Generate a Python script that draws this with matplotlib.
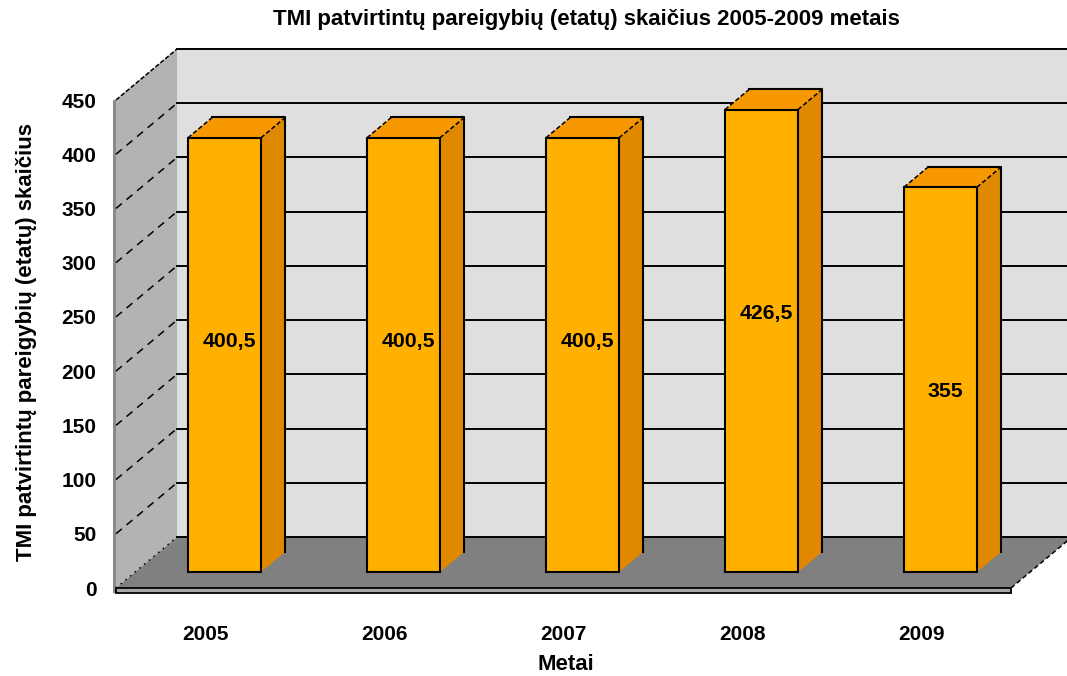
import matplotlib
matplotlib.use("Agg")
import matplotlib.pyplot as plt
from matplotlib.patches import Polygon

plt.rcParams['font.family'] = ['Liberation Sans', 'DejaVu Sans']

# ---- data ----
years = ["2005", "2006", "2007", "2008", "2009"]
values = [400.5, 400.5, 400.5, 426.5, 355]
value_labels = ["400,5", "400,5", "400,5", "426,5", "355"]
yticks = list(range(0, 451, 50))
title = "TMI patvirtintų pareigybių (etatų) skaičius 2005-2009 metais"
ylabel = "TMI patvirtintų pareigybių (etatų) skaičius"
xlabel = "Metai"

# ---- style / geometry ----
W, H = 1067, 676
fig = plt.figure(figsize=(W / 100, H / 100), dpi=100, facecolor="white")
ax_left, ax_right, ax_bottom_px, ax_top_px = 116, 1011, 588, 100
ax = fig.add_axes([ax_left / W, (H - ax_bottom_px) / H,
                   (ax_right - ax_left) / W, (ax_bottom_px - ax_top_px) / H])
YMAX = 450
ax.set_xlim(-0.5, len(years) - 0.5)
ax.set_ylim(0, YMAX)
ax.patch.set_visible(False)
for s in ax.spines.values():
    s.set_visible(False)

px_x = (ax_right - ax_left) / len(years)      # pixels per category
px_y = (ax_bottom_px - ax_top_px) / YMAX        # pixels per value unit
DX = 61 / px_x                                  # full depth offset (x, data)
DY = 51 / px_y                                  # full depth offset (y, data)


def proj(x, v, t):
    return (x + t * DX, v + t * DY)


X0, X1 = -0.5, len(years) - 0.5
kw = dict(clip_on=False)

# back wall
ax.add_patch(Polygon([proj(X0, 0, 1), proj(X1, 0, 1), proj(X1, YMAX, 1), proj(X0, YMAX, 1)],
                     closed=True, fc="#DFDFDF", ec="none", zorder=1, **kw))
# left wall thickness
thick = 3 / px_x
slab = 5 / px_y
ax.add_patch(Polygon([(X0 - thick, -slab), (X0, -slab), (X0, YMAX), (X0 - thick, YMAX)],
                     closed=True, fc="#8A8A8A", ec="none", zorder=1, **kw))
# left wall
ax.add_patch(Polygon([proj(X0, 0, 0), proj(X0, YMAX, 0), proj(X0, YMAX, 1), proj(X0, 0, 1)],
                     closed=True, fc="#B3B3B3", ec="none", zorder=1, **kw))
# floor
ax.add_patch(Polygon([proj(X0, 0, 0), proj(X1, 0, 0), proj(X1, 0, 1), proj(X0, 0, 1)],
                     closed=True, fc="#808080", ec="none", zorder=1, **kw))

# gridlines on back wall
for v in yticks:
    a, b = proj(X0, v, 1), proj(X1, v, 1)
    ax.plot([a[0], b[0]], [a[1], b[1]], color="black", lw=1.4, zorder=2, **kw)
# gridlines on left wall
for v in yticks:
    a, b = proj(X0, v, 0), proj(X0, v, 1)
    ls = (0, (1, 3)) if v == 0 else ((0, (3, 1.2)) if v == YMAX else (0, (5, 4)))
    ax.plot([a[0], b[0]], [a[1], b[1]], color="black", lw=1.1, ls=ls, zorder=2, **kw)
# right floor edge
a, b = proj(X1, 0, 0), proj(X1, 0, 1)
ax.plot([a[0], b[0]], [a[1], b[1]], color="black", lw=1.1, ls=(0, (3, 2)), zorder=2, **kw)

# floor slab (front)
ax.add_patch(Polygon([(X0, 0), (X1, 0), (X1, -slab), (X0, -slab)], closed=True,
                     fc="#A8A8A8", ec="black", lw=1.3, zorder=3, **kw))

# bars
T0, T1 = 0.31, 0.71
BW = 73 / px_x
FRONT, TOP, SIDE = "#FFB000", "#F79800", "#E08800"
for i, v in enumerate(values):
    x0, x1 = i - BW / 2, i + BW / 2
    side = [proj(x1, 0, T0), proj(x1, 0, T1), proj(x1, v, T1), proj(x1, v, T0)]
    top = [proj(x0, v, T0), proj(x1, v, T0), proj(x1, v, T1), proj(x0, v, T1)]
    front = [proj(x0, 0, T0), proj(x1, 0, T0), proj(x1, v, T0), proj(x0, v, T0)]
    ax.add_patch(Polygon(side, closed=True, fc=SIDE, ec="none", zorder=4, **kw))
    ax.add_patch(Polygon(top, closed=True, fc=TOP, ec="none", zorder=4, **kw))
    ax.add_patch(Polygon(front, closed=True, fc=FRONT, ec="black", lw=1.5, zorder=5, **kw))
    # solid back edges
    p1, p2, p3 = proj(x0, v, T1), proj(x1, v, T1), proj(x1, 0, T1)
    ax.plot([p1[0], p2[0], p3[0]], [p1[1], p2[1], p3[1]], color="black", lw=1.5, zorder=5, **kw)
    # diagonal edges
    for xx in (x0, x1):
        a, b = proj(xx, v, T0), proj(xx, v, T1)
        ax.plot([a[0], b[0]], [a[1], b[1]], color="black", lw=1.1, ls=(0, (3, 1.5)), zorder=5, **kw)
    # value label
    lx, ly = proj(i + 0.03, v - 188, T0)
    ax.text(lx, ly, value_labels[i], ha="center", va="center", fontsize=15.3,
            fontweight="bold", color="black", zorder=6)

# ticks
ax.set_yticks(yticks)
ax.set_yticklabels([str(t) for t in yticks], fontsize=15, fontweight="bold")
ax.set_xticks(range(len(years)))
ax.set_xticklabels(years, fontsize=15, fontweight="bold")
ax.tick_params(axis="y", length=0, pad=14)
ax.tick_params(axis="x", length=0, pad=27)

ax.set_xlabel(xlabel, fontsize=16, fontweight="bold")
ax.xaxis.set_label_coords((566 - ax_left) / (ax_right - ax_left),
                          -(665 - ax_bottom_px) / (ax_bottom_px - ax_top_px))
ax.xaxis.label.set_va("center")
ax.set_ylabel(ylabel, fontsize=16, fontweight="bold")
ax.yaxis.set_label_coords(-(ax_left - 27) / (ax_right - ax_left),
                          (ax_bottom_px - 342) / (ax_bottom_px - ax_top_px))
ax.yaxis.label.set_va("center")

fig.text(586 / W, 1 - 19 / H, title, ha="center", va="center", fontsize=16,
         fontweight="bold")

fig.savefig("out.png", dpi=100, facecolor="white")
